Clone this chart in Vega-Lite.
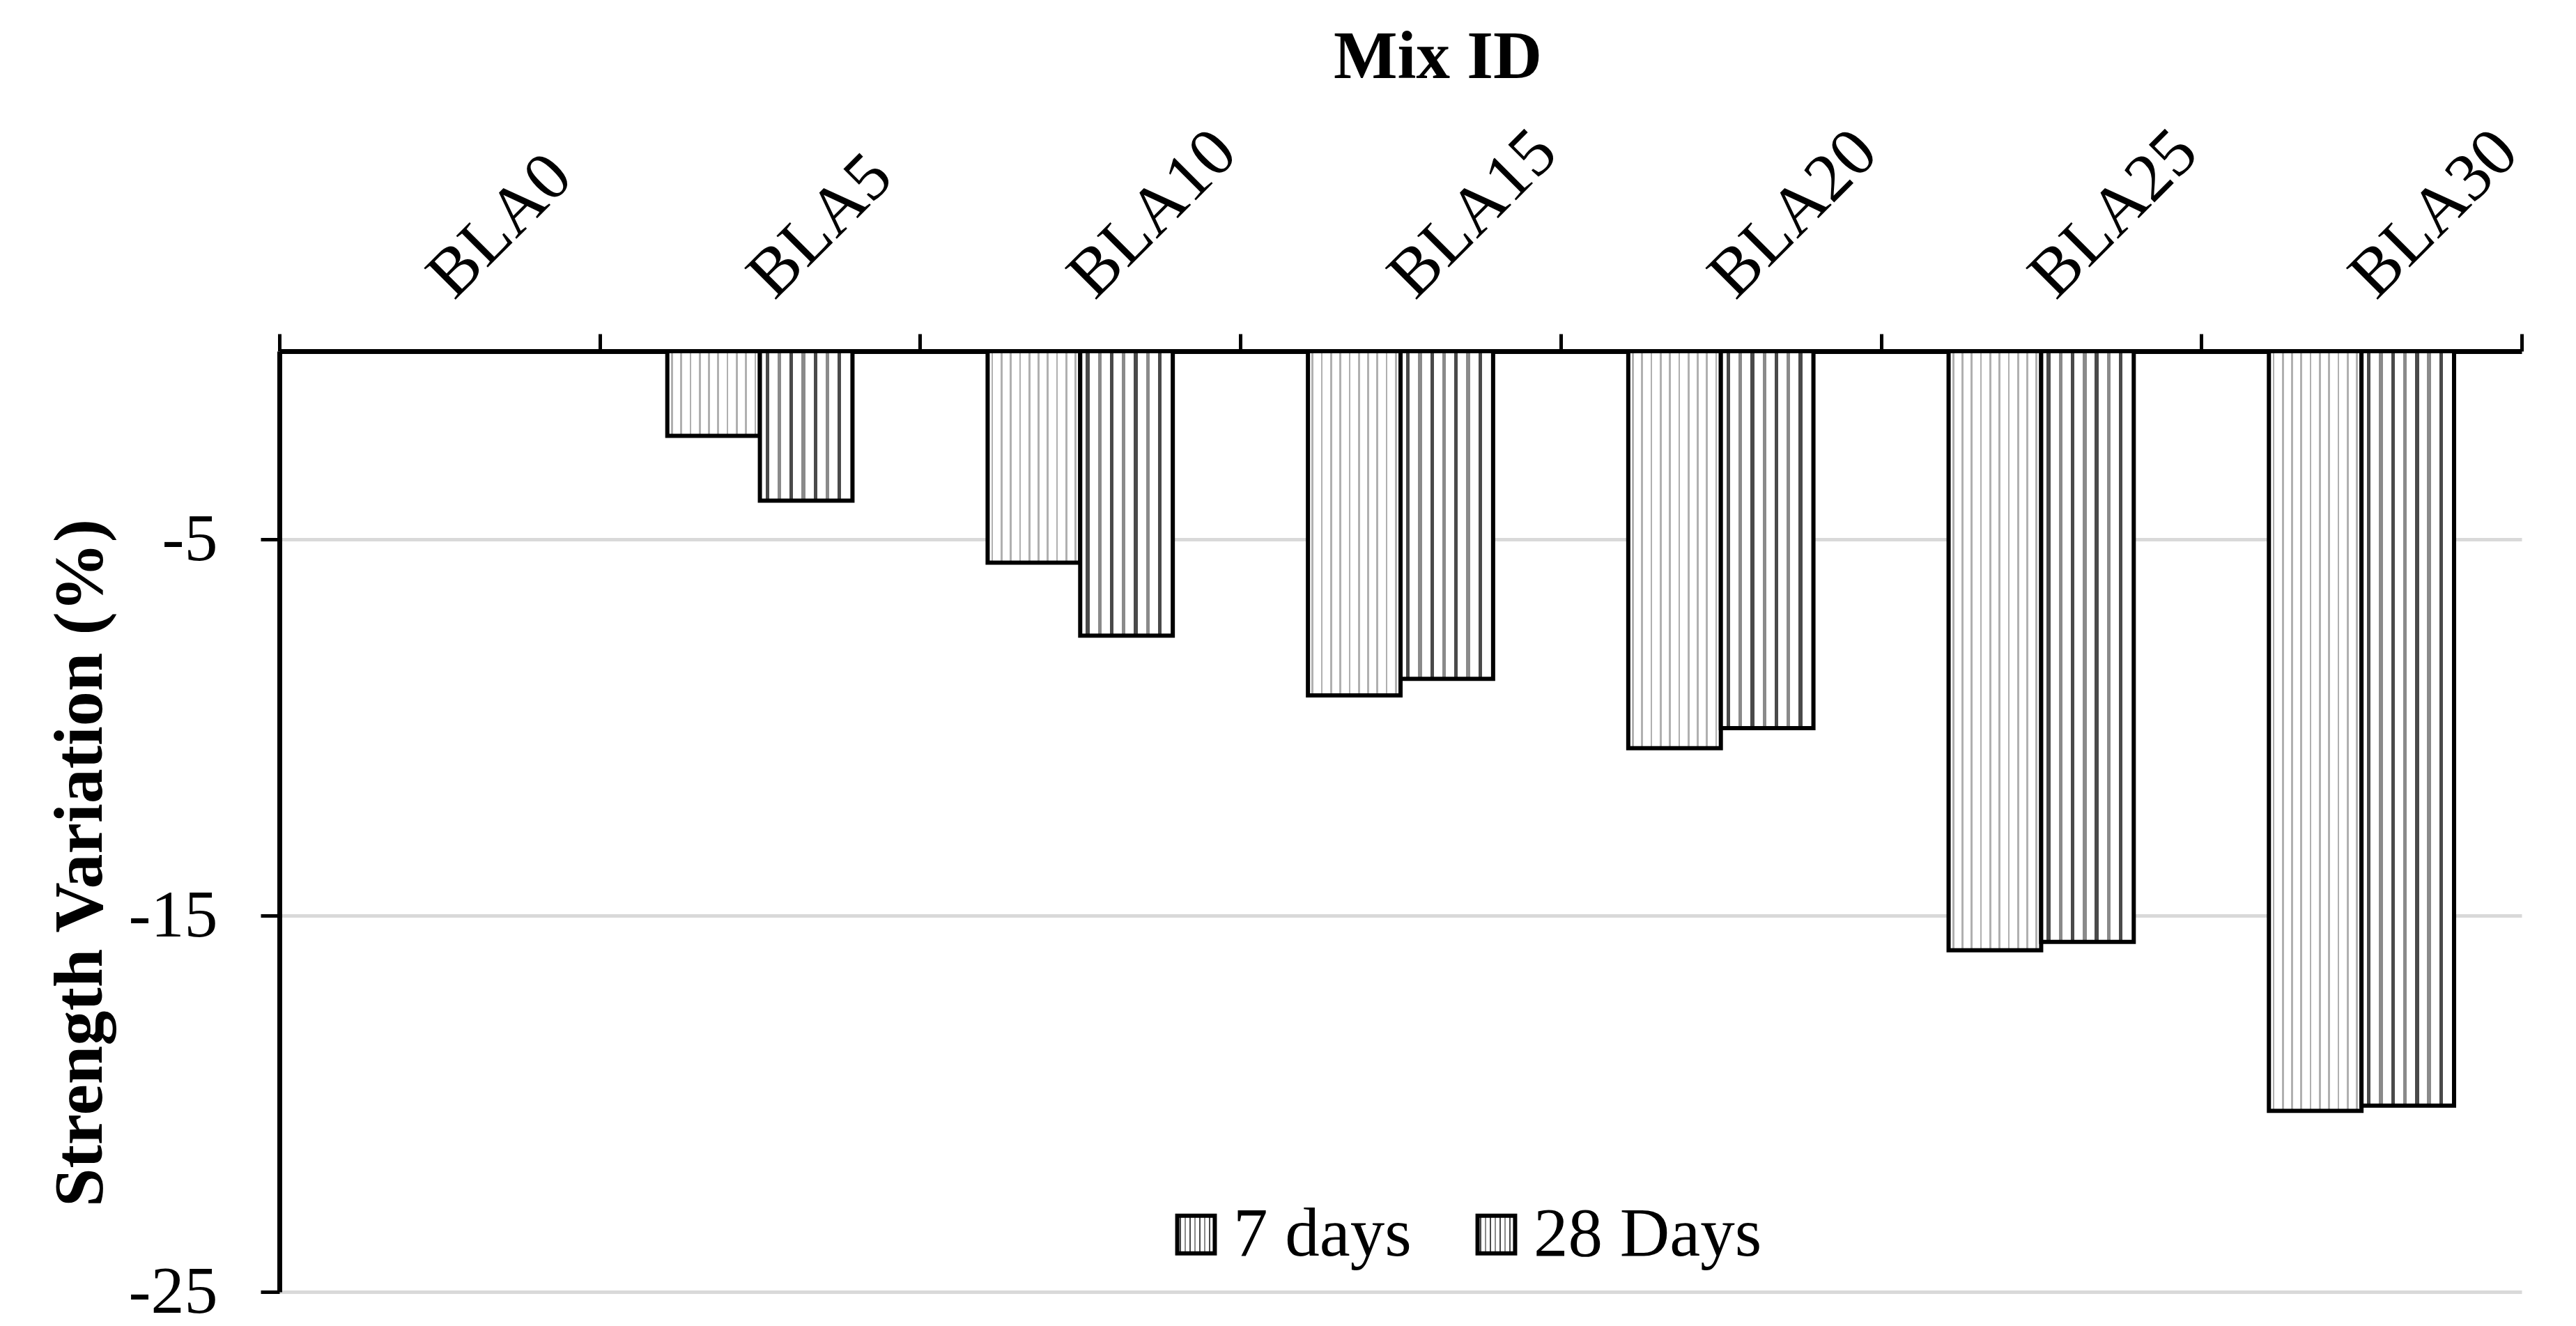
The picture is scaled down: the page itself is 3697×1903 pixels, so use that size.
{
  "$schema": "https://vega.github.io/schema/vega-lite/v6.json",
  "autosize": {"type": "none"},
  "width": 3218,
  "height": 1350,
  "padding": {"left": 401, "top": 504, "right": 78, "bottom": 49},
  "background": "white",
  "config": {
    "view": {"stroke": null},
    "font": "Liberation Serif",
    "axis": {"labelFont": "Liberation Serif", "titleFont": "Liberation Serif", "labelColor": "black", "titleColor": "black"},
    "legend": {"labelFont": "Liberation Serif"}
  },
  "data": {
    "values": [
      {"mix": "BLA0", "age": "7 days", "v": 0},
      {"mix": "BLA0", "age": "28 Days", "v": 0},
      {"mix": "BLA5", "age": "7 days", "v": -2.25},
      {"mix": "BLA5", "age": "28 Days", "v": -3.97},
      {"mix": "BLA10", "age": "7 days", "v": -5.62},
      {"mix": "BLA10", "age": "28 Days", "v": -7.56},
      {"mix": "BLA15", "age": "7 days", "v": -9.15},
      {"mix": "BLA15", "age": "28 Days", "v": -8.71},
      {"mix": "BLA20", "age": "7 days", "v": -10.55},
      {"mix": "BLA20", "age": "28 Days", "v": -10.02},
      {"mix": "BLA25", "age": "7 days", "v": -15.92},
      {"mix": "BLA25", "age": "28 Days", "v": -15.7},
      {"mix": "BLA30", "age": "7 days", "v": -20.19},
      {"mix": "BLA30", "age": "28 Days", "v": -20.05}
    ]
  },
  "mark": {"type": "bar", "strokeWidth": 6, "strokeJoin": "miter"},
  "encoding": {
    "x": {
      "field": "mix", "type": "nominal",
      "sort": ["BLA0", "BLA5", "BLA10", "BLA15", "BLA20", "BLA25", "BLA30"],
      "scale": {"paddingInner": 0, "paddingOuter": 0},
      "axis": {
        "orient": "top", "title": "Mix ID",
        "titleFontSize": 97, "titleFontWeight": "bold",
        "titleX": 1662, "titleY": -393, "titleBaseline": "alphabetic", "titleAlign": "center",
        "labelFontSize": 98, "labelAngle": -45, "labelAlign": "left", "labelBaseline": "middle",
        "labelPadding": 68, "labelLimit": 0,
        "domainColor": "black", "domainWidth": 7,
        "tickColor": "black", "tickWidth": 5, "tickSize": 25, "tickBand": "extent",
        "grid": false
      }
    },
    "xOffset": {"field": "age", "type": "nominal", "sort": ["7 days", "28 Days"], "scale": {"paddingInner": 0, "paddingOuter": 0.73}},
    "y": {
      "field": "v", "type": "quantitative",
      "scale": {"domain": [-25, 0], "nice": false, "zero": false},
      "axis": {
        "title": "Strength Variation (%)",
        "titleFontSize": 100, "titleFontWeight": "bold",
        "titleAngle": -90, "titleX": -256, "titleY": 734, "titleAlign": "center", "titleBaseline": "alphabetic",
        "values": [-5, -15, -25],
        "labelExpr": "datum.value + ''",
        "labelFontSize": 96, "labelPadding": 62,
        "domainColor": "black", "domainWidth": 7,
        "tickColor": "black", "tickWidth": 5, "tickSize": 27,
        "grid": true, "gridColor": "#d9d9d9", "gridWidth": 5
      }
    },
    "fill": {
      "condition": {"test": "datum.age === '7 days'", "value":
          {"gradient": "linear", "x1": 0, "y1": 0, "x2": 1, "y2": 0, "stops": [
            {"offset": 0, "color": "#ffffff"},
            {"offset": 0.04, "color": "#ffffff"}, {"offset": 0.04, "color": "#b0b0b0"}, {"offset": 0.06, "color": "#b0b0b0"}, {"offset": 0.06, "color": "#ffffff"},
            {"offset": 0.14, "color": "#ffffff"}, {"offset": 0.14, "color": "#b0b0b0"}, {"offset": 0.16, "color": "#b0b0b0"}, {"offset": 0.16, "color": "#ffffff"},
            {"offset": 0.24, "color": "#ffffff"}, {"offset": 0.24, "color": "#b0b0b0"}, {"offset": 0.26, "color": "#b0b0b0"}, {"offset": 0.26, "color": "#ffffff"},
            {"offset": 0.34, "color": "#ffffff"}, {"offset": 0.34, "color": "#b0b0b0"}, {"offset": 0.36, "color": "#b0b0b0"}, {"offset": 0.36, "color": "#ffffff"},
            {"offset": 0.44, "color": "#ffffff"}, {"offset": 0.44, "color": "#b0b0b0"}, {"offset": 0.46, "color": "#b0b0b0"}, {"offset": 0.46, "color": "#ffffff"},
            {"offset": 0.54, "color": "#ffffff"}, {"offset": 0.54, "color": "#b0b0b0"}, {"offset": 0.56, "color": "#b0b0b0"}, {"offset": 0.56, "color": "#ffffff"},
            {"offset": 0.64, "color": "#ffffff"}, {"offset": 0.64, "color": "#b0b0b0"}, {"offset": 0.66, "color": "#b0b0b0"}, {"offset": 0.66, "color": "#ffffff"},
            {"offset": 0.74, "color": "#ffffff"}, {"offset": 0.74, "color": "#b0b0b0"}, {"offset": 0.76, "color": "#b0b0b0"}, {"offset": 0.76, "color": "#ffffff"},
            {"offset": 0.84, "color": "#ffffff"}, {"offset": 0.84, "color": "#b0b0b0"}, {"offset": 0.86, "color": "#b0b0b0"}, {"offset": 0.86, "color": "#ffffff"},
            {"offset": 0.94, "color": "#ffffff"}, {"offset": 0.94, "color": "#b0b0b0"}, {"offset": 0.96, "color": "#b0b0b0"}, {"offset": 0.96, "color": "#ffffff"},
            {"offset": 1, "color": "#ffffff"}
          ]}},
      "value":
          {"gradient": "linear", "x1": 0, "y1": 0, "x2": 1, "y2": 0, "stops": [
            {"offset": 0, "color": "#ffffff"},
            {"offset": 0.06, "color": "#ffffff"}, {"offset": 0.06, "color": "#4a4a4a"}, {"offset": 0.1, "color": "#4a4a4a"}, {"offset": 0.1, "color": "#ffffff"},
            {"offset": 0.19, "color": "#ffffff"}, {"offset": 0.19, "color": "#8a8a8a"}, {"offset": 0.23, "color": "#8a8a8a"}, {"offset": 0.23, "color": "#ffffff"},
            {"offset": 0.32, "color": "#ffffff"}, {"offset": 0.32, "color": "#4a4a4a"}, {"offset": 0.36, "color": "#4a4a4a"}, {"offset": 0.36, "color": "#ffffff"},
            {"offset": 0.45, "color": "#ffffff"}, {"offset": 0.45, "color": "#8a8a8a"}, {"offset": 0.49, "color": "#8a8a8a"}, {"offset": 0.49, "color": "#ffffff"},
            {"offset": 0.58, "color": "#ffffff"}, {"offset": 0.58, "color": "#4a4a4a"}, {"offset": 0.62, "color": "#4a4a4a"}, {"offset": 0.62, "color": "#ffffff"},
            {"offset": 0.71, "color": "#ffffff"}, {"offset": 0.71, "color": "#8a8a8a"}, {"offset": 0.75, "color": "#8a8a8a"}, {"offset": 0.75, "color": "#ffffff"},
            {"offset": 0.84, "color": "#ffffff"}, {"offset": 0.84, "color": "#4a4a4a"}, {"offset": 0.88, "color": "#4a4a4a"}, {"offset": 0.88, "color": "#ffffff"},
            {"offset": 1, "color": "#ffffff"}
          ]}
    },
    "stroke": {
      "field": "age", "type": "nominal", "sort": ["7 days", "28 Days"],
      "scale": {"domain": ["7 days", "28 Days"], "range": ["black", "black"]},
      "legend": {
        "title": null, "orient": "none", "direction": "horizontal",
        "legendX": 1266, "legendY": 1218,
        "symbolType": "square", "symbolSize": 2900, "symbolStrokeWidth": 6,
        "labelFontSize": 99, "labelColor": "black", "labelOffset": 4, "columnPadding": 72, "labelLimit": 0,
        "encode": {
          "symbols": {
            "update": {
              "fill": [
                {"test": "datum.value === '7 days'", "value": {"gradient": "linear", "x1": 0, "y1": 0, "x2": 1, "y2": 0, "stops": [
                  {"offset": 0, "color": "#ffffff"}, {"offset": 0.3, "color": "#ffffff"}, {"offset": 0.3, "color": "#b0b0b0"}, {"offset": 0.36, "color": "#b0b0b0"}, {"offset": 0.36, "color": "#ffffff"},
                  {"offset": 0.64, "color": "#ffffff"}, {"offset": 0.64, "color": "#b0b0b0"}, {"offset": 0.7, "color": "#b0b0b0"}, {"offset": 0.7, "color": "#ffffff"}, {"offset": 1, "color": "#ffffff"}]}},
                {"value": {"gradient": "linear", "x1": 0, "y1": 0, "x2": 1, "y2": 0, "stops": [
                  {"offset": 0, "color": "#ffffff"}, {"offset": 0.25, "color": "#ffffff"}, {"offset": 0.25, "color": "#4a4a4a"}, {"offset": 0.35, "color": "#4a4a4a"}, {"offset": 0.35, "color": "#ffffff"},
                  {"offset": 0.65, "color": "#ffffff"}, {"offset": 0.65, "color": "#4a4a4a"}, {"offset": 0.75, "color": "#4a4a4a"}, {"offset": 0.75, "color": "#ffffff"}, {"offset": 1, "color": "#ffffff"}]}}
              ],
              "opacity": {"value": 1}
            }
          }
        }
      }
    }
  }
}
